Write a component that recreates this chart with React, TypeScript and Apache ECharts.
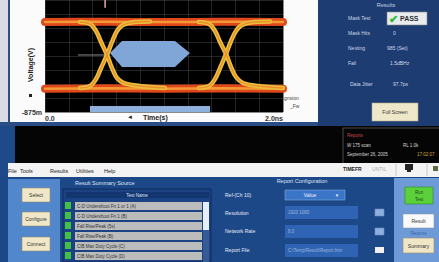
import React, { useEffect, useRef } from 'react';
import * as echarts from 'echarts';

// ---- data (ns, V) ----
const xTickLabels = ['0.0', '2.0ns'];
const yTickLabels = ['-875m'];
const upperBand = [[0, 0.53], [0.5, 0.535], [1.0, 0.53], [1.5, 0.535], [2.0, 0.53]];
const lowerBand = [[0, -0.51], [0.5, -0.505], [1.0, -0.51], [1.5, -0.505], [2.0, -0.51]];
const rising1 = [[0.294, -0.5], [0.378, -0.469], [0.429, -0.359], [0.471, -0.188], [0.521, 0.016], [0.563, 0.219], [0.605, 0.391], [0.655, 0.484], [0.756, 0.531], [0.882, 0.539]];
const falling1 = [[0.294, 0.531], [0.378, 0.5], [0.429, 0.391], [0.471, 0.219], [0.521, 0.016], [0.563, -0.188], [0.605, -0.344], [0.664, -0.422], [0.798, -0.469], [1.008, -0.5]];
const rising2 = [[1.294, -0.5], [1.378, -0.469], [1.429, -0.359], [1.471, -0.188], [1.521, 0.031], [1.563, 0.234], [1.605, 0.391], [1.655, 0.484], [1.756, 0.531], [1.891, 0.539]];
const falling2 = [[1.294, 0.531], [1.378, 0.5], [1.429, 0.391], [1.471, 0.219], [1.521, 0.031], [1.563, -0.172], [1.605, -0.328], [1.664, -0.422], [1.79, -0.469], [2.0, -0.5]];
const maskHexagon = [[0.546, 0.047], [0.647, 0.234], [1.092, 0.234], [1.218, 0.047], [1.092, -0.172], [0.647, -0.172]];
const maskBottom = [[0.378, -0.78], [1.387, -0.78], [1.387, -0.875], [0.378, -0.875]];
const crossingLine = [[0.28, 0.016], [0.5, 0.016]];
const triggerLine = [[0.505, 0.875], [0.505, 0.76]];
const resultLabels = ['Mask Test', 'Mask Hits', 'Nesting', 'Fail', 'Data Jitter'];
const resultValues = ['', '0', '985 (Set)', '1.5dBHz', '97.7ps'];
const summaryRows = ['C-D Undershoot Fn 1 or 1 (A)', 'C-D Undershoot Fn 1 (B)', 'Fall Rise/Peak (5s)', 'Fall Rise/Peak (B)', 'CIB Max Duty Cycle (C)', 'CIB Max Duty Cycle (D)'];
const configLabels = ['Ref-(Ch 10)', 'Resolution', 'Network Rate', 'Report File'];
const configValues = ['Value', '1920 1080', '8.0', 'C:\\Temp\\Result\\Report.htm'];
const menuItems = ['File', 'Tools', 'Results', 'Utilities', 'Help'];

const FONT = '"Liberation Sans", Arial, sans-serif';

function R(x: number, y: number, w: number, h: number, fill: string, stroke?: string, lw = 0.6): any {
  return { type: 'rect', z: -1, silent: true, shape: { x, y, width: w, height: h }, style: { fill, stroke: stroke || 'none', lineWidth: stroke ? lw : 0 } };
}
function T(text: string, x: number, y: number, size: number, fill: string, align = 'left', weight = 'normal'): any {
  return {
    type: 'text', z: -1, silent: true, x, y,
    style: { text, x: 0, y: 0, fill, fontSize: size, fontFamily: FONT, fontWeight: weight, align, verticalAlign: 'middle', textAlign: align, textVerticalAlign: 'middle' },
  };
}
function L(x1: number, y1: number, x2: number, y2: number, stroke: string, lw = 1): any {
  return { type: 'line', z: -1, silent: true, shape: { x1, y1, x2, y2 }, style: { stroke, lineWidth: lw } };
}

function line(data: number[][], color: string, width: number, z: number, smooth = 0.35): any {
  return { type: 'line', data, smooth, showSymbol: false, symbol: 'none', silent: true, z, lineStyle: { color, width, cap: 'round' } };
}

export default function App() {
  const ref = useRef<HTMLDivElement>(null);
  useEffect(() => {
    document.body.style.margin = '0';
    if (!ref.current) return;
    const chart = echarts.init(ref.current, undefined, { renderer: 'svg' });
    const masks = [maskHexagon, maskBottom];
    const g: any[] = [];
    // backgrounds
    g.push(R(0, 0, 439, 262, '#1f4a89'));
    g.push(R(0, 0, 318, 122, '#fbfbfb'));
    g.push(R(0, 0, 8, 122, '#d9dce4'));
    g.push(R(8, 0, 2, 124, '#2c4f8c'));
    g.push(R(0, 122, 318, 4, '#2a4d88'));
    g.push(R(318, 0, 121, 126, '#1c3c72'));
    g.push(R(45, 0, 238, 112, '#000000'));
    // axis titles
    g.push({ ...T('Voltage(V)', 30, 65, 7, '#222', 'center', 'bold'), rotation: Math.PI / 2 });
    g.push(R(29, 94, 3, 3, '#222'));
    g.push(T('\u25C4', 127, 117, 6, '#222', 'left'));
    g.push(T('Time(s)', 143, 117, 7, '#222', 'left', 'bold'));
    g.push(T('gnsion', 284, 98, 5, '#444', 'left'));
    g.push(T('_Fw', 290, 106, 5, '#444', 'left'));
    // results panel
    g.push(T('Results', 386, 5, 5.5, '#c9d2e6', 'center'));
    const ry = [18, 33, 48, 63, 84];
    resultLabels.forEach((s, i) => g.push(T(s, i === 4 ? 350 : 348, ry[i], 5, '#d2d8e6')));
    resultValues.forEach((s, i) => { if (s) g.push(T(s, i === 1 ? 393 : i === 2 ? 387 : i === 3 ? 390 : 393, ry[i], 5, '#d2d8e6')); });
    g.push(R(387, 12, 40, 13, '#e9ecec', '#8a8f90'));
    g.push(T('\u2714', 389, 19, 11, '#37b83a', 'left', 'bold'));
    g.push(T('PASS', 400, 18.5, 7, '#2a2f33', 'left', 'bold'));
    g.push(R(372, 103, 46, 18, '#efe7c9', '#b5ab86'));
    g.push(T('Full Screen', 395, 112, 5, '#333', 'center'));
    // black band
    g.push(R(15, 126, 424, 37, '#050505'));
    g.push(L(343, 128, 343, 163, '#5a5a5a', 0.8));
    g.push(L(343, 128, 439, 128, '#5a5a5a', 0.8));
    g.push(T('Reports', 347, 135, 4.5, '#d14848'));
    g.push(T('W 175 scan', 347, 145, 4.5, '#d8d8d8'));
    g.push(T('RL 1.0k', 403, 145, 4.5, '#d8d8d8'));
    g.push(T('September 26, 2005', 347, 154, 4.5, '#d8d8d8'));
    g.push(T('17:02:07', 417, 154, 4.5, '#c9a548'));
    // menu bar
    g.push(R(8, 163, 431, 14, '#f3f3f3'));
    const mx = [8, 20, 50, 76, 104];
    menuItems.forEach((s, i) => g.push(T(s, mx[i], 171, 5.5, '#222')));
    g.push(T('TIMEFR', 343, 169, 5, '#222', 'left', 'bold'));
    g.push(T('UNTIL', 372, 169, 5, '#aaa'));
    g.push(L(396, 164, 396, 176, '#bbb', 0.8));
    g.push(R(405, 164, 8, 6, '#222'));
    g.push(R(407, 170, 4, 2, '#222'));
    g.push(L(427, 164, 427, 176, '#bbb', 0.8));
    g.push(R(433, 166, 5, 5, '#5a6a40'));
    // bottom panel
    g.push(R(0, 177, 439, 85, '#1d4888'));
    g.push(R(8, 179, 52, 83, '#5387cc'));
    g.push(R(22, 188, 28, 14, '#efe7c7', '#978f6e'));
    g.push(T('Select', 36, 195, 5, '#333', 'center'));
    g.push(R(22, 212, 28, 14, '#efe7c7', '#978f6e'));
    g.push(T('Configure', 36, 219, 5, '#333', 'center'));
    g.push(R(22, 237, 28, 14, '#efe7c7', '#978f6e'));
    g.push(T('Connect', 36, 244, 5, '#333', 'center'));
    // summary table
    g.push(T('Result Summary Source', 75, 183, 5.5, '#dfe6f4'));
    g.push(R(63, 189, 148, 73, '#1b4282', '#0f2c5e', 1));
    g.push(R(66, 192, 143, 6, '#143670'));
    g.push(T('Test Name', 137, 195, 4.5, '#dfe6f4', 'center'));
    summaryRows.forEach((s, i) => {
      const y = 202 + i * 10;
      g.push(R(65, y, 6, 7, '#43c143'));
      g.push(R(75, y, 127, 8, '#bcbcbc'));
      g.push(T(s, 77, y + 4, 4.5, '#333'));
    });
    g.push(R(203, 202, 6, 60, '#355a94'));
    g.push(R(203, 202, 6, 28, '#e8eef8'));
    // report configuration
    g.push(T('Report Configuration', 302, 181, 5.5, '#dfe6f4', 'center'));
    const cy = [195, 213, 231, 250];
    configLabels.forEach((s, i) => g.push(T(s, 225, cy[i], 5, '#e4e9f4')));
    g.push(R(285, 190, 60, 10, '#3b75c8', '#7ea4dc'));
    g.push(T(configValues[0], 310, 195, 5, '#eef2fa', 'center'));
    g.push(T('\u25BC', 337, 195, 4.5, '#eef2fa', 'center'));
    [206, 225, 244].forEach((y, i) => {
      g.push(R(285, y, 73, 13, '#2e64b3'));
      g.push(T(configValues[i + 1], 288, y + 6.5, 4.5, '#9fb6dc'));
    });
    g.push(R(375, 209, 9, 7, '#8eaede', '#6f8fc4'));
    g.push(R(375, 228, 9, 7, '#8eaede', '#6f8fc4'));
    g.push(R(375, 247, 9, 6, '#f0f0f0'));
    // right column
    g.push(R(394, 178, 45, 84, '#6e9bd8'));
    g.push(R(405, 187, 28, 17, '#5ad13a', '#2f8a25'));
    g.push(T('Run', 419, 192, 4.5, '#1f4a1a', 'center'));
    g.push(T('Test', 419, 199, 4.5, '#1f4a1a', 'center'));
    g.push(R(403, 214, 31, 14, '#fafafa', '#8a9bb8'));
    g.push(T('Result', 418.5, 221, 5, '#333', 'center'));
    g.push(T('Reports', 418.5, 233, 4.5, '#3a62a6', 'center'));
    g.push(R(403, 238, 31, 15, '#efe6c6', '#978f6e'));
    g.push(T('Summary', 418.5, 245.5, 5, '#333', 'center'));

    chart.setOption({
      animation: false,
      graphic: { elements: g },
      grid: { left: 45, top: 0, width: 238, height: 112, containLabel: false },
      xAxis: {
        type: 'value', min: 0, max: 2, interval: 0.2,
        axisLine: { show: false }, axisTick: { show: false },
        splitLine: { show: true, lineStyle: { color: '#3c3c3c', width: 0.6 } },
        axisLabel: {
          show: true, margin: 3, fontSize: 7, fontWeight: 'bold', color: '#333', fontFamily: FONT,
          showMinLabel: true, showMaxLabel: true, alignMinLabel: 'left', alignMaxLabel: 'right',
          formatter: (v: number) => (Math.abs(v) < 1e-9 ? xTickLabels[0] : Math.abs(v - 2) < 1e-9 ? xTickLabels[1] : ''),
        },
      },
      yAxis: {
        type: 'value', min: -0.875, max: 0.875, interval: 0.21875,
        axisLine: { show: false }, axisTick: { show: false },
        splitLine: { show: true, lineStyle: { color: '#3c3c3c', width: 0.6 } },
        axisLabel: {
          show: true, margin: 3, fontSize: 7, fontWeight: 'bold', color: '#333', fontFamily: FONT,
          showMinLabel: true,
          formatter: (v: number) => (Math.abs(v + 0.875) < 1e-9 ? yTickLabels[0] : ''),
        },
      },
      series: [
        {
          type: 'custom', silent: true, z: 1,
          data: masks.map((m, i) => [m[0][0], m[0][1], i]),
          renderItem: (params: any, api: any) => {
            const poly = masks[params.dataIndex];
            return { type: 'polygon', shape: { points: poly.map((p) => api.coord(p)) }, style: { fill: params.dataIndex === 0 ? '#7fa6d6' : '#8db0dc' } };
          },
        },
        line(crossingLine, '#8a8a8a', 1, 2, 0),
        line(triggerLine, '#e6a6b8', 1.5, 2, 0),
        line(upperBand, '#e0481c', 8, 3),
        line(lowerBand, '#e0481c', 8, 3),
        line(upperBand, '#f39a36', 2.5, 3),
        line(lowerBand, '#f39a36', 2.5, 3),
        line(rising1, '#e8c13c', 4.5, 4),
        line(falling1, '#e8c13c', 4.5, 4),
        line(rising2, '#e8c13c', 4.5, 4),
        line(falling2, '#e8c13c', 4.5, 4),
        line(rising1, '#f08a2c', 1.3, 5),
        line(falling1, '#f08a2c', 1.3, 5),
        line(rising2, '#f08a2c', 1.3, 5),
        line(falling2, '#f08a2c', 1.3, 5),
      ],
    });
    return () => chart.dispose();
  }, []);
  return <div ref={ref} style={{ width: 439, height: 262 }} />;
}
